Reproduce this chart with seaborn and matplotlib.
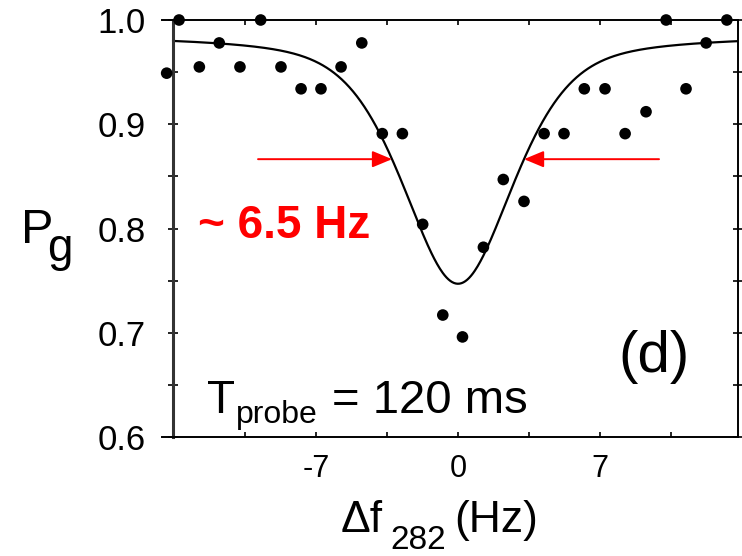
import numpy as np
import pandas as pd
import matplotlib
matplotlib.use("Agg")
import matplotlib.pyplot as plt
from matplotlib import font_manager
from matplotlib.ticker import MultipleLocator, FixedLocator
import seaborn as sns

# Measured ground-state population vs. detuning of the 282 nm probe
detuning_hz = [-14.35, -13.74, -12.74, -11.76, -10.74, -9.72, -8.72, -7.73,
               -6.75, -5.76, -4.74, -3.73, -2.74, -1.74, -0.75, 0.22, 1.25,
               2.23, 3.25, 4.24, 5.22, 6.22, 7.24, 8.23, 9.26, 10.25, 11.23,
               12.22, 13.24]
p_ground = [0.949, 1.0, 0.955, 0.978, 0.955, 1.0, 0.955, 0.934,
            0.934, 0.955, 0.978, 0.891, 0.891, 0.804, 0.717, 0.696, 0.782,
            0.847, 0.826, 0.891, 0.891, 0.934, 0.934, 0.891, 0.912, 1.0, 0.934,
            0.978, 1.0]

# Line-shape fit (pseudo-Voigt dip)
FIT_CENTER = 0.0
FIT_FWHM = 6.5
FIT_BASELINE = 0.986
FIT_DEPTH = 0.239
FIT_LORENTZ_FRACTION = 0.5

x_ticks = [-7, 0, 7]
x_tick_labels = ["-7", "0", "7"]
y_ticks = [0.6, 0.7, 0.8, 0.9, 1.0]
y_tick_labels = ["0.6", "0.7", "0.8", "0.9", "1.0"]

W, H = 742, 556
X_LEFT, X_RIGHT = -14.58, 13.79
X_SPINE = -14.04

sns.set_theme(style="ticks")
plt.rcParams["font.family"] = ["Liberation Sans", "DejaVu Sans"]

names = {f.name for f in font_manager.fontManager.ttflist}
if "Liberation Sans Narrow" in names:
    sub_family, probe_size, sub282_size = "Liberation Sans Narrow", 28, 28
else:
    sub_family, probe_size, sub282_size = "Liberation Sans", 23, 24

fig = plt.figure(figsize=(W / 100, H / 100), dpi=100)
ax = fig.add_axes([162 / W, 1 - 437 / H, (738 - 162) / W, (437 - 20) / H])


def fit_curve(x):
    hw = FIT_FWHM / 2
    u = (x - FIT_CENTER) / hw
    lor = 1.0 / (1.0 + u ** 2)
    gau = np.exp(-np.log(2) * u ** 2)
    shape = FIT_LORENTZ_FRACTION * lor + (1 - FIT_LORENTZ_FRACTION) * gau
    return FIT_BASELINE - FIT_DEPTH * shape


points = pd.DataFrame({"df": detuning_hz, "pg": p_ground})
xf = np.linspace(X_SPINE, X_RIGHT, 600)
fit = pd.DataFrame({"df": xf, "pg": fit_curve(xf)})

sns.lineplot(data=fit, x="df", y="pg", color="black", lw=1.6, ax=ax,
             errorbar=None, zorder=2)
sns.scatterplot(data=points, x="df", y="pg", color="black", s=70,
                edgecolor="none", linewidth=0, ax=ax, clip_on=False, zorder=3)

ax.set_xlim(X_LEFT, X_RIGHT)
ax.set_ylim(0.6, 1.0)
ax.set_xlabel("")
ax.set_ylabel("")

ax.xaxis.set_major_locator(FixedLocator(x_ticks))
ax.set_xticklabels(x_tick_labels)
ax.xaxis.set_minor_locator(FixedLocator([-10.5, -3.5, 3.5, 10.5]))
ax.yaxis.set_major_locator(FixedLocator(y_ticks))
ax.set_yticklabels(y_tick_labels)
ax.yaxis.set_minor_locator(MultipleLocator(0.05))

ax.spines["left"].set_position(("data", X_SPINE))
ax.spines["left"].set_linewidth(2.2)
ax.spines["left"].set_color("#333333")
for side in ("top", "bottom", "right"):
    ax.spines[side].set_visible(True)
    ax.spines[side].set_linewidth(1.4)
    ax.spines[side].set_color("black")

ax.tick_params(axis="x", which="both", direction="in", length=3.5, width=1.2,
               top=True, bottom=True, labelsize=22, pad=12, colors="black")
ax.tick_params(axis="y", which="both", direction="inout", length=7, width=1.2,
               left=True, right=True, labelsize=25, pad=16, colors="black")
ax.patch.set_facecolor("white")
fig.patch.set_facecolor("white")

# Half-width markers
hw = FIT_FWHM / 2
half_level = fit_curve(FIT_CENTER + hw)
arrow_kw = dict(arrowstyle="-|>,head_length=12,head_width=5", color="#ff0000",
                lw=1.4, mutation_scale=1, shrinkA=0, shrinkB=0)
ax.annotate("", xy=(FIT_CENTER - hw, half_level), xytext=(-9.85, half_level),
            arrowprops=arrow_kw)
ax.annotate("", xy=(FIT_CENTER + hw, half_level), xytext=(9.9, half_level),
            arrowprops=arrow_kw)


def put(xp, yp, s, **kw):
    fig.text(xp / W, 1 - yp / H, s, ha="left", va="baseline", **kw)


put(198, 238, "~ 6.5 Hz", fontsize=33, fontweight="bold", color="#ff0000")
put(618, 372, "(d)", fontsize=42, color="black")
put(207, 413, "T", fontsize=33, color="black")
put(236, 423, "probe", fontsize=probe_size, family=sub_family, color="black")
put(332, 413, "= 120 ms", fontsize=34, color="black")
put(21, 243, "P", fontsize=35, color="black")
put(47, 261, "g", fontsize=33, color="black")
put(341, 532, "Δf", fontsize=32, color="black")
put(390, 549, "282", fontsize=sub282_size, family=sub_family, color="black")
put(454, 532, "(Hz)", fontsize=32, color="black")

fig.savefig("out.png", dpi=100, facecolor="white")
